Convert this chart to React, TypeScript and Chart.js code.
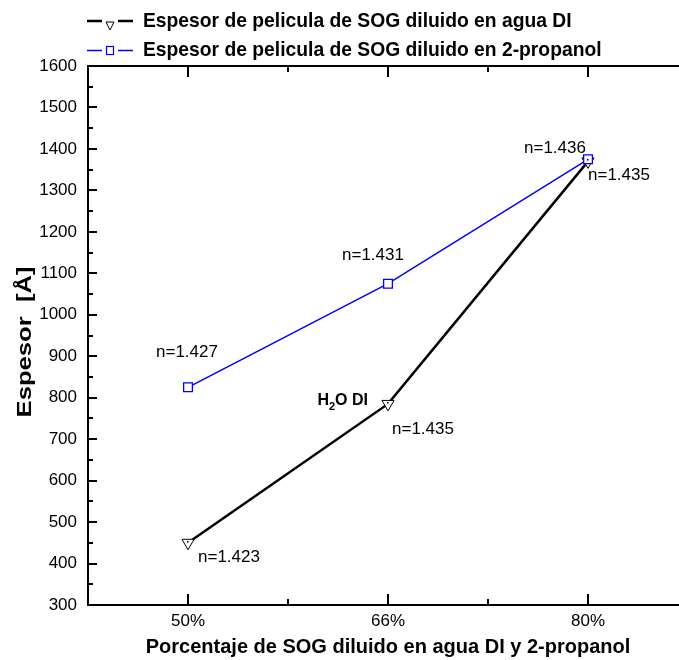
import React, { useEffect, useRef } from 'react';
import { Chart, registerables } from 'chart.js';

Chart.register(...registerables);

// ---- data ----
const categories = ['50%', '66%', '80%'];
const espesorAgua = [450, 785, 1370];
const espesorPropanol = [825, 1075, 1375];
const nAgua = ['1.423', '1.435', '1.435'];
const nPropanol = ['1.427', '1.431', '1.436'];
const seriesNames = [
  'Espesor de pelicula de SOG diluido en agua DI',
  'Espesor de pelicula de SOG diluido en 2-propanol',
];
const xTitle = 'Porcentaje de SOG diluido en agua DI y 2-propanol';
const yTitle = 'Espesor  [Å]';
const yMin = 300;
const yMax = 1600;
const yStep = 100;

// ---- layout / style ----
const CANVAS_W = 720;
const CANVAS_H = 660;
const PLOT_LEFT = 88;
const PLOT_RIGHT = 688;
const PLOT_TOP = 66;
const PLOT_BOTTOM = 605;
const FONT = '"Liberation Sans", Arial, Helvetica, sans-serif';
const BLUE = '#0000ff';

// label offsets from each point: [dx to text left edge, dy to text middle]
const aguaLabelOffsets = [[10, 15], [4, 25], [0, 14]];
const propLabelOffsets = [[-32, -35], [-46, -28], [-64, -11]];

const drawTriangleDown = (ctx: CanvasRenderingContext2D, x: number, yTop: number, w: number, h: number) => {
  ctx.beginPath();
  ctx.moveTo(x - w / 2, yTop);
  ctx.lineTo(x + w / 2, yTop);
  ctx.lineTo(x, yTop + h);
  ctx.closePath();
  ctx.fillStyle = '#fff';
  ctx.fill();
  ctx.strokeStyle = '#000';
  ctx.lineWidth = 1;
  ctx.stroke();
};

const frameAndTicksPlugin = {
  id: 'frameAndTicks',
  afterDatasetsDraw(chart: any) {
    const { ctx, chartArea, scales } = chart;
    const xs = scales.x;
    const ys = scales.y;
    ctx.save();
    ctx.strokeStyle = '#000';
    ctx.lineCap = 'butt';
    // y ticks, inward
    ctx.lineWidth = 2;
    for (let v = yMin; v <= yMax; v += yStep / 2) {
      const y = Math.round(ys.getPixelForValue(v));
      const len = v % yStep === 0 ? 9 : 5;
      ctx.beginPath();
      ctx.moveTo(chartArea.left, y);
      ctx.lineTo(chartArea.left + len, y);
      ctx.stroke();
    }
    // x ticks, bottom and top, inward
    for (let v = -0.5; v <= categories.length - 0.5 + 1e-9; v += 0.5) {
      const x = Math.round(xs.getPixelForValue(v));
      const major = Math.abs(v - Math.round(v)) < 1e-6;
      const len = major ? 11 : 6;
      ctx.beginPath();
      ctx.moveTo(x, chartArea.bottom);
      ctx.lineTo(x, chartArea.bottom - len);
      ctx.moveTo(x, chartArea.top);
      ctx.lineTo(x, chartArea.top + len);
      ctx.stroke();
    }
    // axis lines
    ctx.lineWidth = 2;
    ctx.beginPath();
    ctx.moveTo(chartArea.left, chartArea.top);
    ctx.lineTo(chartArea.right, chartArea.top);
    ctx.moveTo(chartArea.left, chartArea.top - 1);
    ctx.lineTo(chartArea.left, chartArea.bottom + 1);
    ctx.moveTo(chartArea.left, chartArea.bottom);
    ctx.lineTo(chartArea.right, chartArea.bottom);
    ctx.stroke();
    ctx.restore();
  },
};

const pointLabelsPlugin = {
  id: 'pointLabels',
  afterDatasetsDraw(chart: any) {
    const { ctx } = chart;
    const agua = chart.getDatasetMeta(0).data;
    const prop = chart.getDatasetMeta(1).data;
    ctx.save();
    // centre dot inside each triangle marker
    ctx.fillStyle = '#000';
    agua.forEach((pt: any) => {
      ctx.fillRect(Math.round(pt.x) - 1, Math.round(pt.y) - 2, 1.5, 1.5);
    });
    ctx.textBaseline = 'middle';
    ctx.textAlign = 'left';
    ctx.font = `17px ${FONT}`;
    agua.forEach((pt: any, i: number) => {
      const [dx, dy] = aguaLabelOffsets[i];
      ctx.fillText(`n=${nAgua[i]}`, pt.x + dx, pt.y + dy);
    });
    prop.forEach((pt: any, i: number) => {
      const [dx, dy] = propLabelOffsets[i];
      ctx.fillText(`n=${nPropanol[i]}`, pt.x + dx, pt.y + dy);
    });
    // "H2O DI" tag beside the water series at 66%
    const p = agua[1];
    const big = `bold 16px ${FONT}`;
    const small = `bold 11px ${FONT}`;
    ctx.font = big;
    const wH = ctx.measureText('H').width;
    const wRest = ctx.measureText('O DI').width;
    ctx.font = small;
    const w2 = ctx.measureText('2').width;
    const right = p.x - 20;
    let x = right - (wH + w2 + wRest);
    const y = p.y - 3;
    ctx.font = big;
    ctx.fillText('H', x, y);
    x += wH;
    ctx.font = small;
    ctx.fillText('2', x, y + 6);
    x += w2;
    ctx.font = big;
    ctx.fillText('O DI', x, y);
    ctx.restore();
  },
};

const legendAndTitlesPlugin = {
  id: 'legendAndTitles',
  afterDraw(chart: any) {
    const { ctx, chartArea } = chart;
    ctx.save();
    // legend
    const rows = [21, 50.5];
    ctx.lineCap = 'butt';
    // row 1: black line with down triangle
    ctx.strokeStyle = '#000';
    ctx.lineWidth = 2.5;
    ctx.beginPath();
    ctx.moveTo(87, rows[0]);
    ctx.lineTo(102, rows[0]);
    ctx.moveTo(118, rows[0]);
    ctx.lineTo(133, rows[0]);
    ctx.stroke();
    drawTriangleDown(ctx, 110, rows[0] + 1, 8, 8);
    // row 2: blue line with square
    ctx.strokeStyle = BLUE;
    ctx.lineWidth = 1.5;
    ctx.beginPath();
    ctx.moveTo(87, rows[1]);
    ctx.lineTo(102, rows[1]);
    ctx.moveTo(118, rows[1]);
    ctx.lineTo(133, rows[1]);
    ctx.stroke();
    ctx.fillStyle = '#fff';
    ctx.lineWidth = 1.2;
    ctx.fillRect(106.5, rows[1] - 4, 7, 8);
    ctx.strokeRect(106.5, rows[1] - 4, 7, 8);

    ctx.fillStyle = '#000';
    ctx.font = `bold 19.3px ${FONT}`;
    ctx.textBaseline = 'middle';
    ctx.textAlign = 'left';
    ctx.fillText(seriesNames[0], 143, rows[0] + 1);
    ctx.fillText(seriesNames[1], 143, rows[1]);

    // x axis title
    ctx.textAlign = 'center';
    ctx.font = `bold 20px ${FONT}`;
    ctx.fillText(xTitle, (chartArea.left + chartArea.right) / 2, 647);

    // y axis title, rotated
    ctx.translate(25, 342);
    ctx.rotate(-Math.PI / 2);
    ctx.scale(1.22, 1);
    ctx.font = `bold 21px ${FONT}`;
    ctx.fillText(yTitle, 0, 0);
    ctx.restore();
  },
};

export default function App() {
  const canvasRef = useRef<HTMLCanvasElement | null>(null);

  useEffect(() => {
    const canvas = canvasRef.current;
    if (!canvas) return;
    const toPoints = (vals: number[]) => vals.map((y, i) => ({ x: i, y }));

    const chart = new Chart(canvas, {
      type: 'line',
      data: {
        datasets: [
          {
            label: seriesNames[0],
            data: toPoints(espesorAgua),
            borderColor: '#000',
            borderWidth: 2.5,
            pointStyle: 'triangle',
            pointRotation: 180,
            pointRadius: 7,
            pointBackgroundColor: '#fff',
            pointBorderColor: '#000',
            pointBorderWidth: 1,
            tension: 0,
            order: 1,
          },
          {
            label: seriesNames[1],
            data: toPoints(espesorPropanol),
            borderColor: BLUE,
            borderWidth: 1.5,
            pointStyle: 'rect',
            pointRadius: 6.2,
            pointBackgroundColor: '#fff',
            pointBorderColor: BLUE,
            pointBorderWidth: 1.3,
            tension: 0,
            order: 0,
          },
        ],
      },
      options: {
        responsive: false,
        animation: false,
        events: [],
        layout: {
          padding: { top: PLOT_TOP, right: CANVAS_W - PLOT_RIGHT, left: 0, bottom: 0 },
        },
        plugins: {
          legend: { display: false },
          tooltip: { enabled: false },
        },
        scales: {
          x: {
            type: 'linear',
            position: 'bottom',
            min: -0.5,
            max: categories.length - 0.5,
            grid: { display: false, drawTicks: false },
            border: { display: false },
            afterBuildTicks: (s: any) => {
              s.ticks = categories.map((_, i) => ({ value: i }));
            },
            afterFit: (s: any) => {
              s.height = CANVAS_H - PLOT_BOTTOM;
            },
            ticks: {
              callback: (v: any) => categories[Math.round(Number(v))] ?? '',
              font: { family: FONT, size: 17 },
              color: '#000',
              padding: 6,
              maxRotation: 0,
              autoSkip: false,
            },
          },
          y: {
            type: 'linear',
            min: yMin,
            max: yMax,
            grid: { display: false, drawTicks: false },
            border: { display: false },
            afterFit: (s: any) => {
              s.width = PLOT_LEFT;
            },
            ticks: {
              stepSize: yStep,
              callback: (v: any) => String(v),
              font: { family: FONT, size: 17 },
              color: '#000',
              padding: 11,
            },
          },
        },
      },
      plugins: [frameAndTicksPlugin, pointLabelsPlugin, legendAndTitlesPlugin],
    });

    return () => chart.destroy();
  }, []);

  return (
    <div
      style={{
        position: 'fixed',
        left: 0,
        top: 0,
        width: 679,
        height: 660,
        overflow: 'hidden',
        background: '#fff',
      }}
    >
      <canvas
        ref={canvasRef}
        width={CANVAS_W}
        height={CANVAS_H}
        style={{ width: CANVAS_W, height: CANVAS_H, display: 'block' }}
      />
    </div>
  );
}
